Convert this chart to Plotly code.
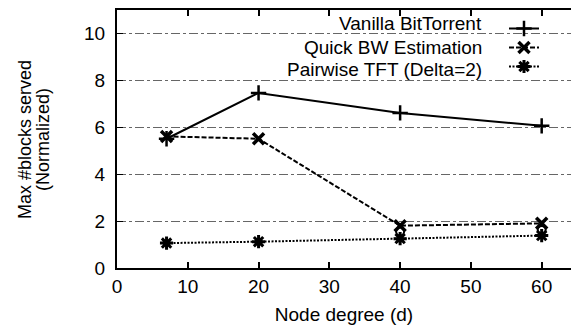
import plotly.graph_objects as go

# ---- data ----
node_degree = [7, 20, 40, 60]
vanilla_bt = [5.5, 7.45, 6.6, 6.05]
quick_bw = [5.6, 5.5, 1.8, 1.9]
pairwise_tft = [1.06, 1.12, 1.25, 1.38]
extra_x = [40, 60]
extra_y = [1.55, 1.62]

series_names = ["Vanilla BitTorrent", "Quick BW Estimation", "Pairwise TFT (Delta=2)"]
x_ticks = [0, 10, 20, 30, 40, 50, 60]
y_ticks = [0, 2, 4, 6, 8, 10]

W, H = 571, 326
L, T, B, R = 117, 10, 58, 0
pw, ph = W - L - R, H - T - B

def px_x(p):
    return (p - L) / pw

def px_y(p):
    return (H - B - p) / ph

FONT = "Liberation Sans, Arial, sans-serif"

fig = go.Figure()
fig.add_trace(go.Scatter(
    x=node_degree, y=vanilla_bt, mode="lines+markers", name=" ",
    line=dict(color="black", width=2, dash="solid"),
    marker=dict(symbol="cross-thin", size=11, line=dict(color="black", width=2.5)),
))
fig.add_trace(go.Scatter(
    x=node_degree, y=quick_bw, mode="lines+markers", name="  ",
    line=dict(color="black", width=2, dash="5px,2px"),
    marker=dict(symbol="x-thin", size=11, line=dict(color="black", width=3.5)),
))
fig.add_trace(go.Scatter(
    x=node_degree, y=pairwise_tft, mode="lines+markers", name="   ",
    line=dict(color="black", width=2, dash="2px,1.5px"),
    marker=dict(symbol="asterisk-open", size=11, line=dict(color="black", width=3)),
))
fig.add_trace(go.Scatter(
    x=extra_x, y=extra_y, mode="markers", showlegend=False,
    marker=dict(symbol="circle-open", size=8, color="black", line=dict(color="black", width=2)),
))

# white legend box background (covers gridline)
fig.add_shape(type="rect", xref="paper", yref="paper",
              x0=px_x(212), x1=px_x(563), y0=px_y(76), y1=px_y(12),
              fillcolor="white", line=dict(width=0), layer="between")

rows = [24, 47, 69]
for name, ry in zip(series_names, rows):
    fig.add_annotation(text=name, xref="paper", yref="paper",
                       x=px_x(484), y=px_y(ry), xanchor="right", yanchor="middle",
                       showarrow=False, font=dict(family=FONT, size=19, color="black"))

# y-axis title as two rotated lines
for txt, cx in [("Max #blocks served", 25), ("(Normalized)", 43)]:
    fig.add_annotation(text=txt, xref="paper", yref="paper",
                       x=px_x(cx), y=px_y(140), xanchor="center", yanchor="middle",
                       textangle=-90, showarrow=False,
                       font=dict(family=FONT, size=18, color="black"))

fig.update_layout(
    width=W, height=H,
    margin=dict(l=L, r=R, t=T, b=B, pad=0),
    paper_bgcolor="white", plot_bgcolor="white",
    font=dict(family=FONT, size=19, color="black"),
    showlegend=True,
    legend=dict(x=px_x(504), y=px_y(14), xanchor="left", yanchor="top",
                bgcolor="rgba(0,0,0,0)", borderwidth=0,
                font=dict(size=12), tracegroupgap=0, itemwidth=30),
    xaxis=dict(range=[0, (W - L - R) / 7.078], tickvals=x_ticks,
               showline=True, linecolor="black", linewidth=2, mirror="ticks",
               ticks="inside", ticklen=6, tickwidth=2, tickcolor="black",
               showgrid=False, zeroline=False,
               tickfont=dict(family=FONT, size=19),
               title=dict(text="Node degree (d)", font=dict(family=FONT, size=19), standoff=12)),
    yaxis=dict(range=[0, ph / 23.5], tickvals=y_ticks,
               showline=True, linecolor="black", linewidth=2,
               ticks="inside", ticklen=6, tickwidth=1, tickcolor="black",
               showgrid=True, gridcolor="#666666", gridwidth=1, griddash="dashdot",
               zeroline=False, ticklabelstandoff=6,
               tickfont=dict(family=FONT, size=19)),
)

fig.write_html("out.html")
